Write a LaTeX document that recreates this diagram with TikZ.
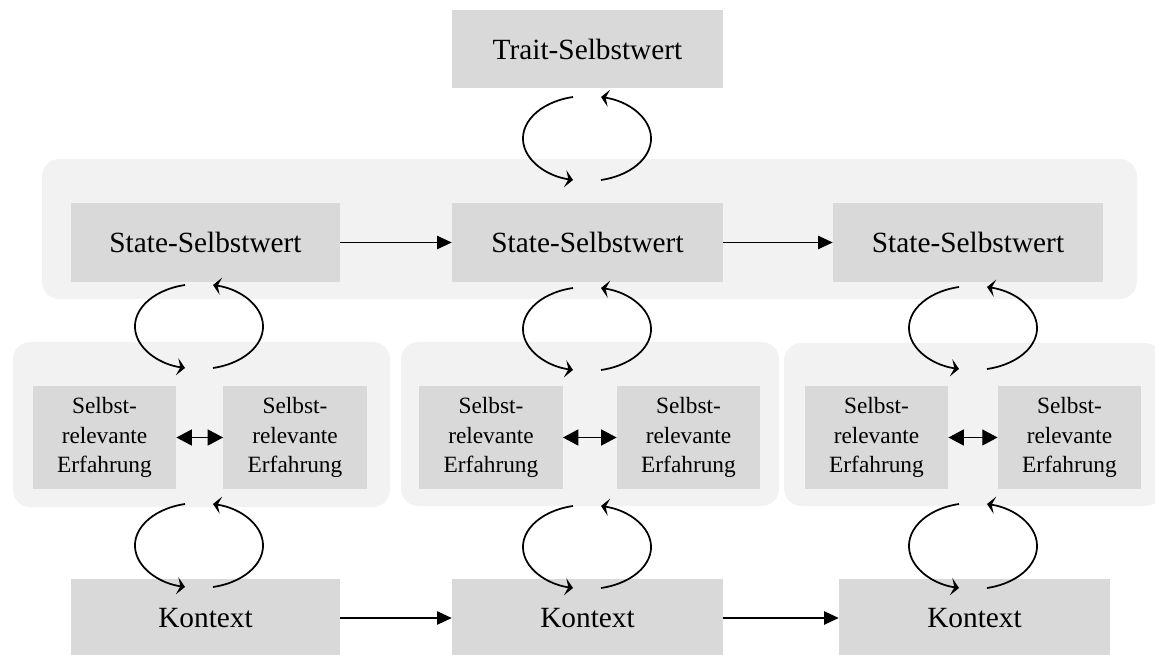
\documentclass[tikz,border=0pt]{standalone}
\usepackage{fontspec}
\setmainfont{Liberation Serif}
\usetikzlibrary{arrows.meta}

\definecolor{panelgray}{HTML}{F2F2F2}
\definecolor{boxgray}{HTML}{D9D9D9}

\tikzset{
  panel/.style={fill=panelgray, draw=none, rounded corners=13pt},
  bigbox/.style={fill=boxgray, draw=none, inner sep=0pt,
    font=\fontsize{22}{26}\selectfont},
  expbox/.style={fill=boxgray, draw=none, inner sep=0pt, align=center,
    minimum width=107.5pt, minimum height=77pt,
    font=\fontsize{17.5}{22}\selectfont},
  flow/.style={line width=0.9pt, -{Triangle[length=11pt,width=10pt]}},
  mutual/.style={line width=0.9pt,
    {Triangle[length=11.5pt,width=12pt]}-{Triangle[length=11.5pt,width=12pt]}},
  loopline/.style={line width=1.3pt, -{Stealth[length=6pt,width=13pt,inset=2.5pt]}}
}

% feedback loop: centre x, top y, bottom y (pixel units, y counted downwards)
\newcommand{\fbloop}[3]{%
  \pgfmathsetmacro{\fbry}{(#3-#2)/2/0.976}%
  \draw[loopline] (#1-14,-#2) arc[start angle=102.6, end angle=257.4,
      x radius=64, y radius=\fbry];
  \draw[loopline] (#1+14,-#3) arc[start angle=-77.4, end angle=77.4,
      x radius=64, y radius=\fbry];
}

\begin{document}
\begin{tikzpicture}[x=0.75pt, y=0.75pt]
  \useasboundingbox (0,0) rectangle (1155,-655);
  \clip (0,0) rectangle (1155,-655);

  % background panels
  \path[panel] (42,-159) rectangle (1137,-299);
  \path[panel] (13,-342) rectangle (390,-507);
  \path[panel] (401,-342) rectangle (779,-506);
  \path[panel] (784,-343) rectangle (1162,-506);

  % trait level
  \node[bigbox, minimum width=203.25pt, minimum height=58.5pt]
    (trait) at (587.5,-49) {Trait-Selbstwert};

  % state level
  \node[bigbox, minimum width=201.75pt, minimum height=59.25pt]
    (st1) at (205.5,-242.5) {State-Selbstwert};
  \node[bigbox, minimum width=203.25pt, minimum height=59.25pt]
    (st2) at (587.5,-242.5) {State-Selbstwert};
  \node[bigbox, minimum width=202.5pt, minimum height=59.25pt]
    (st3) at (968,-242.5) {State-Selbstwert};

  % self-relevant experiences
  \node[expbox] (e1a) at (104.5,-437.5) {Selbst-\\relevante\\Erfahrung};
  \node[expbox] (e1b) at (295,-437.5) {Selbst-\\relevante\\Erfahrung};
  \node[expbox] (e2a) at (491,-437.5) {Selbst-\\relevante\\Erfahrung};
  \node[expbox] (e2b) at (688.5,-437.5) {Selbst-\\relevante\\Erfahrung};
  \node[expbox] (e3a) at (876.5,-437.5) {Selbst-\\relevante\\Erfahrung};
  \node[expbox] (e3b) at (1069.5,-437.5) {Selbst-\\relevante\\Erfahrung};

  % context level
  \node[bigbox, minimum width=201.75pt, minimum height=58.5pt]
    (ko1) at (205.5,-618) {Kontext};
  \node[bigbox, minimum width=203.25pt, minimum height=58.5pt]
    (ko2) at (587.5,-618) {Kontext};
  \node[bigbox, minimum width=203.25pt, minimum height=58.5pt]
    (ko3) at (974.5,-618) {Kontext};

  % sequential links
  \draw[flow] (st1.east) -- (st2.west);
  \draw[flow] (st2.east) -- (st3.west);
  \draw[flow] (ko1.east) -- (ko2.west);
  \draw[flow] (ko2.east) -- (ko3.west);

  % mutual links between experiences
  \draw[mutual] (e1a.east) -- (e1b.west);
  \draw[mutual] (e2a.east) -- (e2b.west);
  \draw[mutual] (e3a.east) -- (e3b.west);

  % reciprocal feedback loops
  \fbloop{587}{97}{180}
  \fbloop{199}{285}{368}
  \fbloop{587}{288}{370}
  \fbloop{973}{287}{369}
  \fbloop{199}{504}{587}
  \fbloop{587}{506}{588}
  \fbloop{973}{504}{588}
\end{tikzpicture}
\end{document}
